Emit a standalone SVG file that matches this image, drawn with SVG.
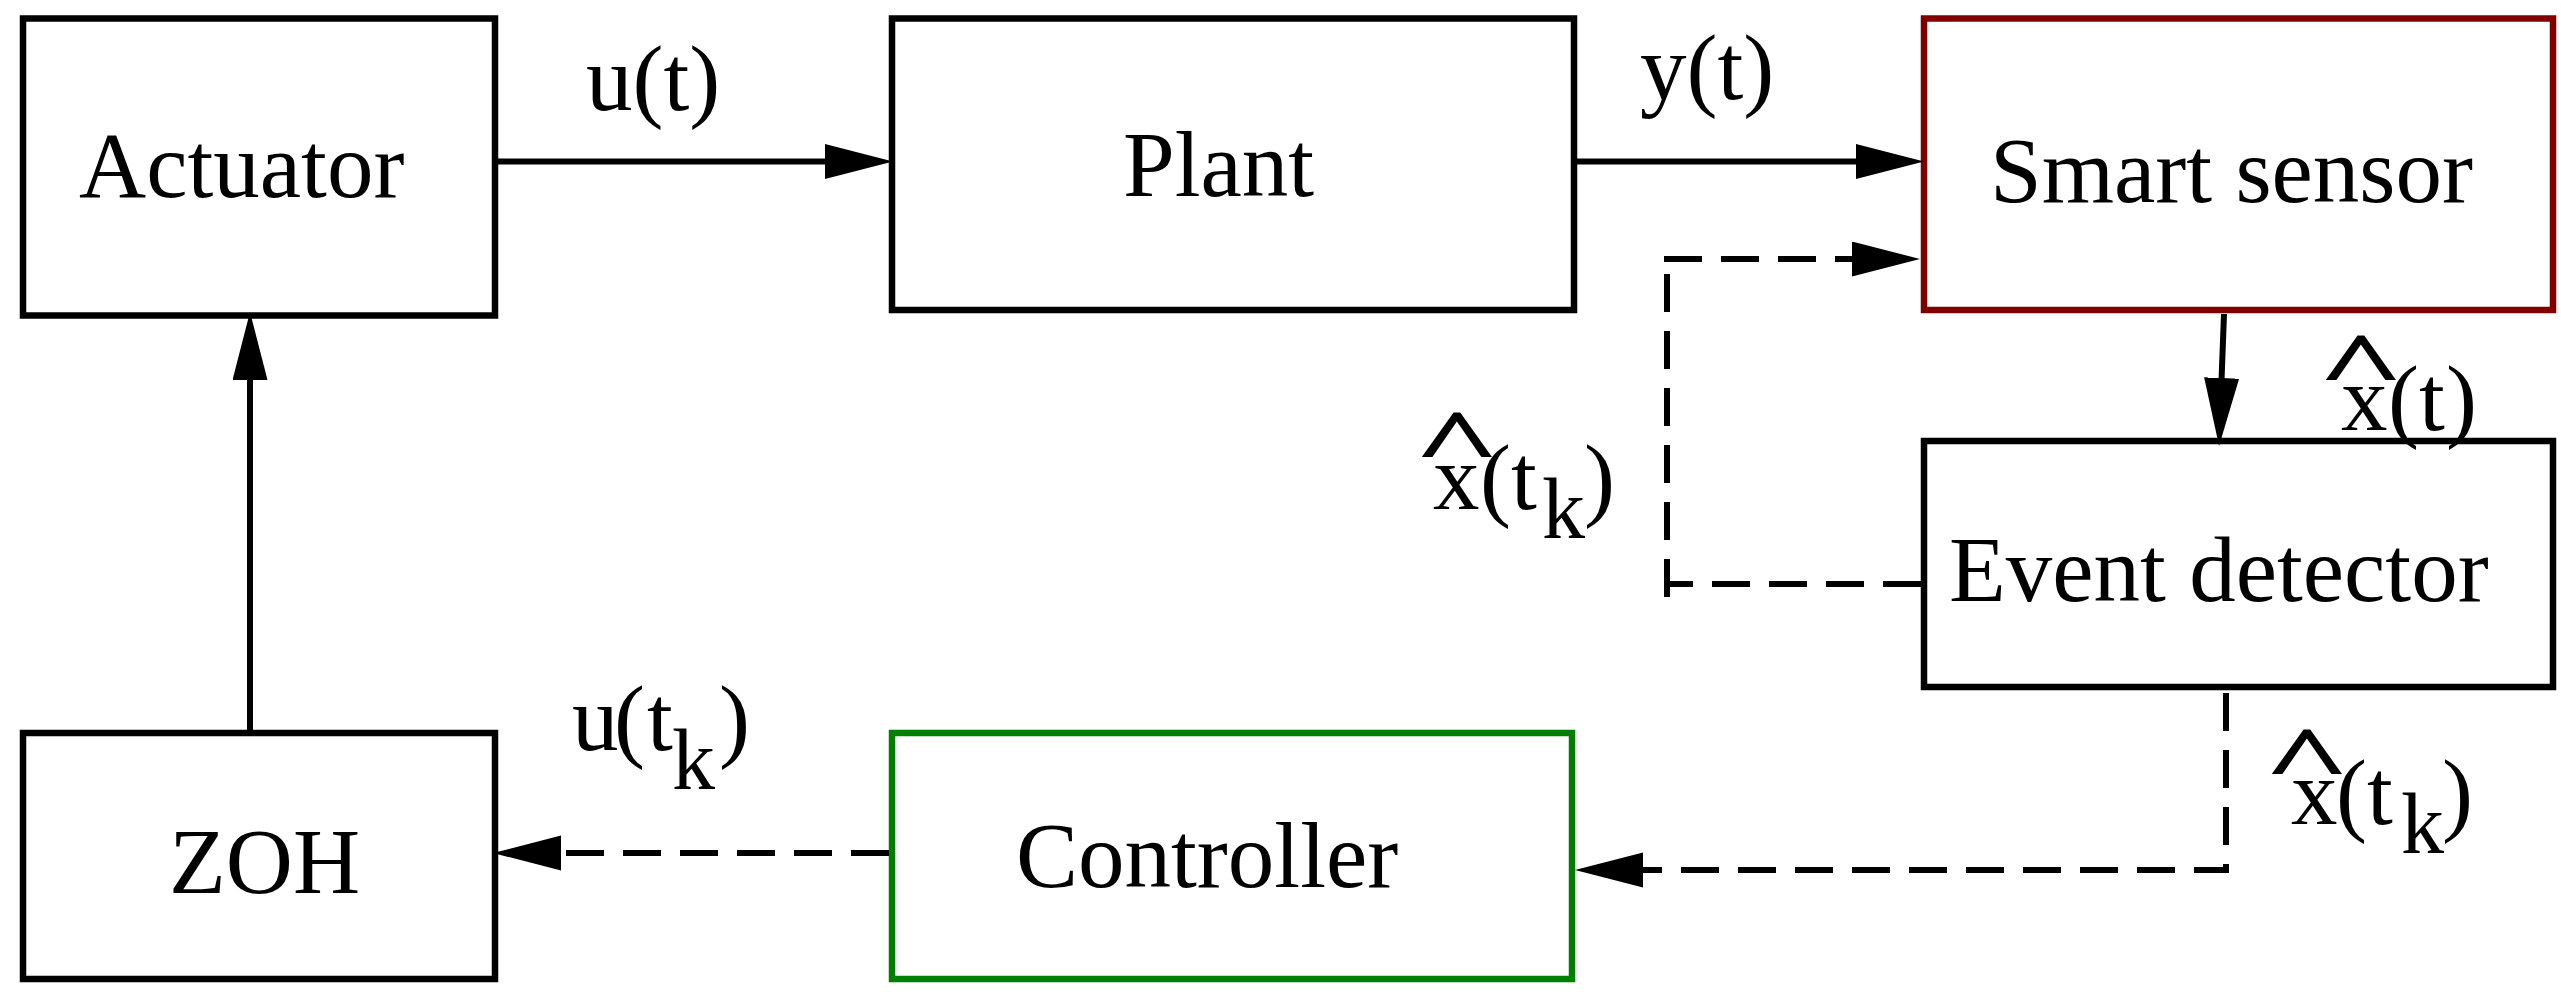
<svg xmlns="http://www.w3.org/2000/svg" width="2561" height="999" viewBox="0 0 2561 999">
<style>
.box{fill:none;stroke:#000;stroke-width:6.5}
.red{stroke:#800000}
.green{stroke:#008000}
.t{font-family:"Liberation Serif","Times New Roman",serif;font-size:93px;fill:#000}
.k{font-size:86px}
.hat{font-family:"Liberation Serif","Times New Roman",serif;font-size:95px;font-weight:bold;fill:#000;text-anchor:middle}
.ln{fill:none;stroke:#000;stroke-width:6}
.dash{stroke-dasharray:38 19}
</style>
<defs>
<marker id="ah" markerUnits="userSpaceOnUse" markerWidth="70" markerHeight="36" refX="16" refY="17.5" orient="auto" viewBox="0 0 70 36">
<path d="M0,0 L68,17.5 L0,35 z" fill="#000"/>
</marker>
</defs>
<rect width="2561" height="999" fill="#fff"/>
<g id="actuator">
<rect class="box" x="23" y="18.5" width="472" height="297"/>
<text class="t" x="79" y="197">Actuator</text>
</g>
<g id="plant">
<rect class="box" x="892" y="18.5" width="682" height="291.5"/>
<text class="t" x="1123" y="196">Plant</text>
</g>
<g id="smart-sensor">
<rect class="box red" x="1924" y="18.5" width="629" height="291.5"/>
<text class="t" x="1990" y="202">Smart sensor</text>
</g>
<g id="event-detector">
<rect class="box" x="1924" y="441" width="629" height="246"/>
<text class="t" x="1949" y="601">Event detector</text>
</g>
<g id="zoh">
<rect class="box" x="23" y="733" width="472" height="246"/>
<text class="t" x="169" y="893">ZOH</text>
</g>
<g id="controller">
<rect class="box green" x="892" y="733" width="680" height="246"/>
<text class="t" x="1016" y="887">Controller</text>
</g>
<g id="connectors">
<line class="ln" x1="498" y1="161.5" x2="841" y2="161.5" marker-end="url(#ah)"/>
<line class="ln" x1="1577" y1="161.5" x2="1872" y2="161.5" marker-end="url(#ah)"/>
<line class="ln" x1="2224" y1="314" x2="2221" y2="394" marker-end="url(#ah)"/>
<line class="ln" x1="250" y1="730" x2="250" y2="364" marker-end="url(#ah)"/>
<line class="ln dash" x1="889" y1="853" x2="545" y2="853" marker-end="url(#ah)"/>
<path class="ln dash" d="M1921,584 H1665 M1667,597 V259 M1664,259 H1868" marker-end="url(#ah)"/>
<path class="ln dash" d="M2226,693 V870 H1627" marker-end="url(#ah)"/>
</g>
<g id="labels">
<text class="t" x="586" y="110">u(t)</text>
<text class="t" x="1640" y="99">y(t)</text>
<text class="hat" transform="translate(2361,398) scale(1.6,1)">^</text>
<text class="t" y="430"><tspan x="2341">x</tspan><tspan x="2388">(</tspan><tspan x="2419">t</tspan><tspan x="2446">)</tspan></text>
<text class="hat" transform="translate(1457,475) scale(1.6,1)">^</text>
<text class="t" y="509"><tspan x="1433">x</tspan><tspan x="1480">(</tspan><tspan x="1511">t</tspan><tspan class="k" x="1542" y="538">k</tspan><tspan x="1584" y="509">)</tspan></text>
<text class="hat" transform="translate(2307,792) scale(1.6,1)">^</text>
<text class="t" y="824"><tspan x="2291">x</tspan><tspan x="2336">(</tspan><tspan x="2367">t</tspan><tspan class="k" x="2401" y="853">k</tspan><tspan x="2442" y="824">)</tspan></text>
<text class="t" y="750"><tspan x="572">u</tspan><tspan x="614">(</tspan><tspan x="647">t</tspan><tspan class="k" x="672" y="789">k</tspan><tspan x="719" y="750">)</tspan></text>
</g>
</svg>
